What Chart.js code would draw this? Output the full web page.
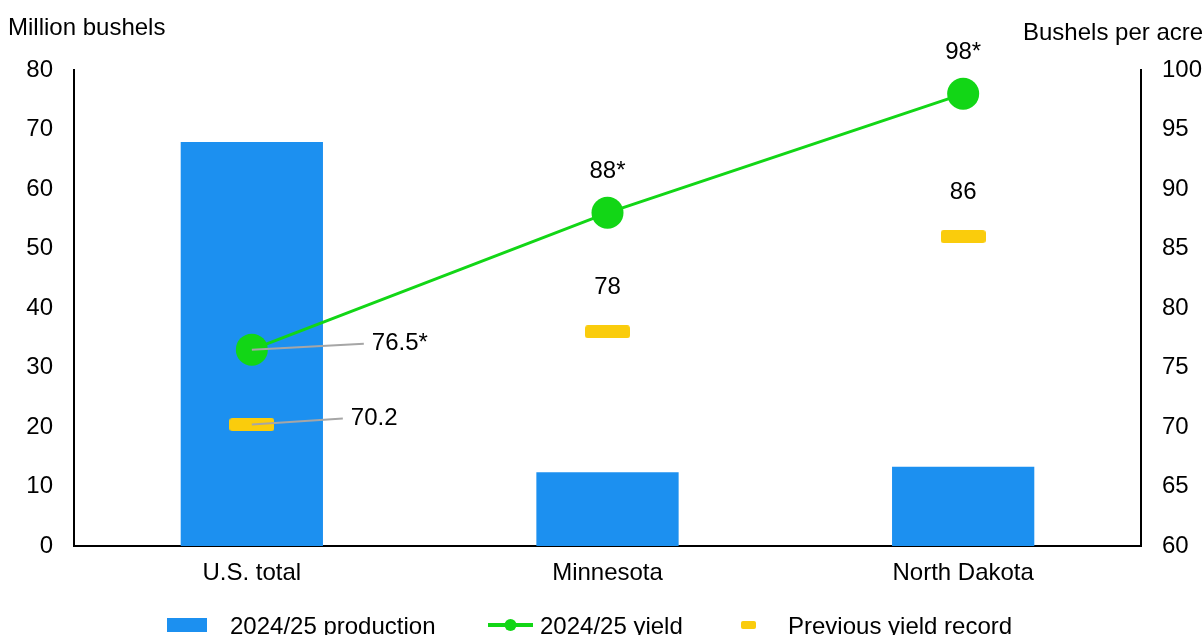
<!DOCTYPE html>
<html>
<head>
<meta charset="utf-8">
<script src="https://cdn.jsdelivr.net/npm/chart.js@4.4.1/dist/chart.umd.min.js"></script>
<style>
  html, body { margin: 0; padding: 0; background: #ffffff; }
  canvas { display: block; }
</style>
</head>
<body>
<canvas id="chart" width="1204" height="635"></canvas>
<script>
// Categories and series
const categories = ['U.S. total', 'Minnesota', 'North Dakota'];
const production = [67.9, 12.4, 13.3];        // million bushels (left axis)
const yieldValues = [76.5, 88, 98];            // bushels per acre (right axis)
const previousRecord = [70.2, 78, 86];         // bushels per acre (right axis)
const yieldLabels = ['76.5*', '88*', '98*'];
const recordLabels = ['70.2', '78', '86'];
const leftTicks = [0, 10, 20, 30, 40, 50, 60, 70, 80];
const rightTicks = [60, 65, 70, 75, 80, 85, 90, 95, 100];

const BLUE = '#1C90F0';
const GREEN = '#12D616';
const YELLOW = '#FACC0C';
const FONT = '"Liberation Sans", Arial, sans-serif';
const FS = 24;

// Rounded yellow dash used as the point marker for the previous record
function makeDash(w, h, r) {
  const c = document.createElement('canvas');
  c.width = w; c.height = h;
  const g = c.getContext('2d');
  g.fillStyle = YELLOW;
  g.beginPath();
  g.roundRect(0, 0, w, h, r);
  g.fill();
  return c;
}
const dashMarker = makeDash(45, 13, 3);

// Value labels and leader lines
const valueLabels = {
  id: 'valueLabels',
  afterDatasetsDraw(chart) {
    const ctx = chart.ctx;
    const yMeta = chart.getDatasetMeta(1);
    const rMeta = chart.getDatasetMeta(2);
    ctx.save();
    ctx.font = FS + 'px ' + FONT;
    ctx.fillStyle = '#000';
    ctx.textBaseline = 'middle';
    for (let i = 0; i < categories.length; i++) {
      const yp = yMeta.data[i];
      const rp = rMeta.data[i];
      if (i === 0) {
        // leader lines to the side labels
        ctx.strokeStyle = '#A6A6A6';
        ctx.lineWidth = 2;
        ctx.beginPath();
        ctx.moveTo(yp.x, yp.y);
        ctx.lineTo(yp.x + 112, yp.y - 6);
        ctx.moveTo(rp.x, rp.y);
        ctx.lineTo(rp.x + 91, rp.y - 6);
        ctx.stroke();
        ctx.textAlign = 'left';
        ctx.fillText(yieldLabels[i], yp.x + 120, yp.y - 6);
        ctx.fillText(recordLabels[i], rp.x + 99, rp.y - 6);
      } else {
        ctx.textAlign = 'center';
        ctx.fillText(yieldLabels[i], yp.x, yp.y - 41);
        ctx.fillText(recordLabels[i], rp.x, rp.y - 44);
      }
    }
    ctx.restore();
  }
};

// Axis titles and bottom legend
const decorations = {
  id: 'decorations',
  afterDraw(chart) {
    const ctx = chart.ctx;
    ctx.save();
    ctx.font = FS + 'px ' + FONT;
    ctx.fillStyle = '#000';
    ctx.textBaseline = 'alphabetic';
    ctx.textAlign = 'left';
    ctx.fillText('Million bushels', 8, 35);
    ctx.fillText('Bushels per acre', 1023, 40);

    const ly = 625;
    // production swatch
    ctx.fillStyle = BLUE;
    ctx.fillRect(167, ly - 7, 40, 14);
    // yield swatch
    ctx.strokeStyle = GREEN;
    ctx.lineWidth = 4;
    ctx.beginPath();
    ctx.moveTo(488, ly);
    ctx.lineTo(533, ly);
    ctx.stroke();
    ctx.fillStyle = GREEN;
    ctx.beginPath();
    ctx.arc(510.5, ly, 6, 0, Math.PI * 2);
    ctx.fill();
    // record swatch
    ctx.fillStyle = YELLOW;
    ctx.beginPath();
    ctx.roundRect(741, ly - 4, 15, 8, 2);
    ctx.fill();

    ctx.fillStyle = '#000';
    ctx.fillText('2024/25 production', 230, 634);
    ctx.fillText('2024/25 yield', 540, 634);
    ctx.fillText('Previous yield record', 788, 634);
    ctx.restore();
  }
};

new Chart(document.getElementById('chart'), {
  data: {
    labels: categories,
    datasets: [
      {
        type: 'bar',
        label: '2024/25 production',
        data: production,
        backgroundColor: BLUE,
        borderWidth: 0,
        yAxisID: 'y',
        categoryPercentage: 1,
        barPercentage: 0.4,
        order: 2
      },
      {
        type: 'line',
        label: '2024/25 yield',
        data: yieldValues,
        borderColor: GREEN,
        backgroundColor: GREEN,
        borderWidth: 3,
        pointRadius: 16,
        pointHoverRadius: 16,
        pointBackgroundColor: GREEN,
        pointBorderWidth: 0,
        yAxisID: 'y1',
        order: 0
      },
      {
        type: 'line',
        label: 'Previous yield record',
        data: previousRecord,
        showLine: false,
        pointStyle: dashMarker,
        yAxisID: 'y1',
        order: 1
      }
    ]
  },
  options: {
    responsive: false,
    animation: false,
    layout: { padding: { top: 70, left: 0, right: 0, bottom: 0 } },
    plugins: {
      legend: { display: false },
      tooltip: { enabled: false }
    },
    scales: {
      x: {
        offset: true,
        grid: { display: false, drawTicks: false, tickLength: 0 },
        border: { display: true, color: '#000', width: 2 },
        ticks: { color: '#000', font: { family: FONT, size: FS }, padding: 13, maxRotation: 0 },
        afterFit(s) { s.height = 89; }
      },
      y: {
        position: 'left',
        min: 0,
        max: 80,
        afterBuildTicks(s) { s.ticks = leftTicks.map(v => ({ value: v })); },
        grid: { display: false, drawTicks: false, tickLength: 0 },
        border: { display: true, color: '#000', width: 2 },
        ticks: { color: '#000', font: { family: FONT, size: FS }, padding: 21 },
        afterFit(s) { s.width = 74; }
      },
      y1: {
        position: 'right',
        min: 60,
        max: 100,
        afterBuildTicks(s) { s.ticks = rightTicks.map(v => ({ value: v })); },
        grid: { display: false, drawTicks: false, tickLength: 0 },
        border: { display: true, color: '#000', width: 2 },
        ticks: { color: '#000', font: { family: FONT, size: FS }, padding: 21 },
        afterFit(s) { s.width = 63; }
      }
    }
  },
  plugins: [valueLabels, decorations]
});
</script>
</body>
</html>
